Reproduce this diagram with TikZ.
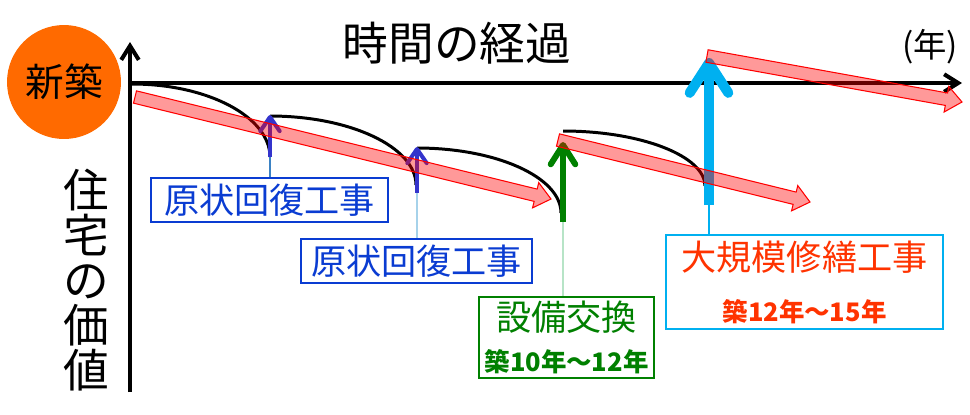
\documentclass[tikz,border=0pt]{standalone}
\usepackage{fontspec}
\setmainfont{Noto Sans CJK JP}
\usetikzlibrary{arrows.meta, positioning, calc}
\definecolor{newbuild}{HTML}{FF6A00}
\definecolor{repairblue}{HTML}{3434CC}
\definecolor{repairtext}{HTML}{0A3CD2}
\definecolor{equipgreen}{HTML}{008000}
\definecolor{majorcyan}{HTML}{00B0F0}
\definecolor{majortext}{HTML}{FF3300}
\newcommand{\bandarrow}[2]{%
  \coordinate (hb) at ($(#2)!9pt!(#1)$);
  \draw[band] ($(#1)!3.6pt!90:(#2)$) -- ($(hb)!3.6pt!-90:(#1)$) -- ($(hb)!7.4pt!-90:(#1)$)
    -- (#2) -- ($(hb)!7.4pt!90:(#1)$) -- ($(hb)!3.6pt!90:(#1)$) -- ($(#1)!3.6pt!-90:(#2)$) -- cycle;
}

\begin{document}
\begin{tikzpicture}[x=0.02cm, y=-0.02cm]
    \tikzset{
      axis/.style={line width=2.3pt, -{Straight Barb[length=8pt, width=10pt]}},
      value/.style={line width=1.7pt},
      band/.style={draw=red, line width=0.6pt, fill=red, fill opacity=0.4, line join=miter},
      lift/.style={line cap=butt},
      leader/.style={line width=0.8pt},
      tag/.style={draw, line width=1pt, fill=white, inner sep=0pt, font=\fontsize{20}{24}\selectfont},
    }
    \useasboundingbox (0,0) rectangle (970,414);

    \node[circle, fill=newbuild, minimum size=2.28cm, inner sep=0pt, font=\fontsize{22}{26}\selectfont] (newb) at (64,82) {新築};
    \node[font=\fontsize{26}{30}\selectfont] (title) at (457,43) {時間の経過};
    \node[font=\fontsize{19}{22}\selectfont] (unit) at (930,47) {(年)};
    \node[align=center, font=\fontsize{26}{25.5}\selectfont] (vlabel) at (86,280) {住\\宅\\の\\価\\値};

    \coordinate (o) at (130,83);
    \coordinate (ybot) at (130,392);
    \coordinate (ytop) at (130,42);
    \coordinate (xend) at (962,83);
    \draw[axis] (ybot) -- (ytop);
    \draw[axis] (o) -- (xend);

    \draw[value] (132,84) .. controls (208,84) and (270,117) .. (270,157);
    \draw[value] (270,116) .. controls (350,116) and (416,147) .. (416,185);
    \draw[value] (417,148) .. controls (496,148) and (561,177) .. (561,213);
    \draw[value] (563,131) .. controls (641,131) and (705,156) .. (705,186);

    \coordinate (b1) at (270,157); \coordinate (t1) at (270,115);
    \coordinate (b2) at (417,193); \coordinate (t2) at (417,147);
    \coordinate (b3) at (563,222); \coordinate (t3) at (563,142);
    \coordinate (b4) at (709,205); \coordinate (t4) at (709,58);

    \draw[lift, repairblue, line width=2.3pt, -{Straight Barb[round, length=8pt, width=11pt]}] (b1) -- (t1);
    \draw[lift, repairblue, line width=2.3pt, -{Straight Barb[round, length=8pt, width=11pt]}] (b2) -- (t2);
    \draw[lift, equipgreen, line width=3.4pt, -{Straight Barb[round, length=11pt, width=14pt]}] (b3) -- (t3);
    \draw[lift, majorcyan, line width=5.7pt, -{Straight Barb[round, length=17pt, width=22pt]}] (b4) -- (t4);

    \coordinate (s1) at (135,97); \coordinate (e1) at (551,199);
    \coordinate (s2) at (558,140); \coordinate (e2) at (810,202);
    \coordinate (s3) at (707,56); \coordinate (e3) at (962,102);
    \bandarrow{s1}{e1}
    \bandarrow{s2}{e2}
    \bandarrow{s3}{e3}

    \node[tag, draw=repairtext, text=repairtext, minimum width=4.74cm, minimum height=0.88cm] (fix1) at (269.5,200) {原状回復工事};
    \node[tag, draw=repairtext, text=repairtext, minimum width=4.62cm, minimum height=0.88cm] (fix2) at (416.5,261) {原状回復工事};
    \node[tag, draw=equipgreen, text=equipgreen, minimum width=3.5cm, minimum height=1.62cm, align=center] (swap) at (566.5,337.5)
      {設備交換\\[-1pt]{\bfseries\fontsize{14.5}{17}\selectfont 築10年～12年}};
    \node[tag, draw=majorcyan, text=majortext, minimum width=5.54cm, minimum height=1.88cm, align=center] (major) at (804.5,282)
      {大規模修繕工事\\[5pt]{\bfseries\fontsize{14.5}{17}\selectfont 築12年～15年}};

    \draw[leader, draw={rgb,255:red,59;green,130;blue,196}] (b1) -- (b1 |- fix1.north);
    \draw[leader, draw={rgb,255:red,166;green,210;blue,234}] (b2) -- (b2 |- fix2.north);
    \draw[leader, draw={rgb,255:red,183;green,228;blue,199}] (b3) -- (b3 |- swap.north);
    \draw[leader, draw=majorcyan] (b4) -- (b4 |- major.north);
\end{tikzpicture}
\end{document}
